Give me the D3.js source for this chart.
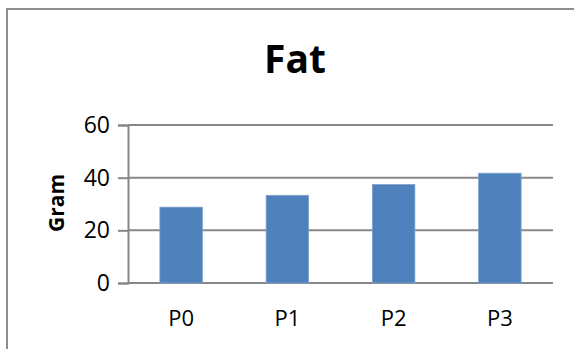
<!DOCTYPE html>
<html>
<head>
<meta charset="utf-8">
<script src="https://cdn.jsdelivr.net/npm/d3@7"></script>
<style>
  body { margin: 0; background: #fff; }
</style>
</head>
<body>
<div id="chart"></div>
<script>
const categories = ["P0", "P1", "P2", "P3"];
const fatValues = [28.8, 33.3, 37.4, 41.7];
const yTicks = [0, 20, 40, 60];

const W = 574, H = 349;
const margin = {top: 125, right: 21, bottom: 66, left: 128};
const width = W - margin.left - margin.right,
      height = H - margin.top - margin.bottom;

const svg = d3.select("#chart").append("svg")
    .attr("width", W)
    .attr("height", H)
    .style("font-family", "'Open Sans', sans-serif");

// outer chart border
svg.append("rect")
    .attr("x", 7)
    .attr("y", 9)
    .attr("width", W + 20)
    .attr("height", H + 20)
    .attr("fill", "none")
    .attr("stroke", "#8e8e8e")
    .attr("stroke-width", 2);

// title
svg.append("text")
    .attr("x", 295)
    .attr("y", 73)
    .attr("text-anchor", "middle")
    .attr("font-size", "39px")
    .attr("font-weight", "bold")
    .text("Fat");

const g = svg.append("g")
    .attr("transform", `translate(${margin.left},${margin.top})`);

const x = d3.scaleBand()
    .domain(categories)
    .range([0, width])
    .paddingInner(0.6)
    .paddingOuter(0.3);

const y = d3.scaleLinear()
    .domain([0, 60])
    .range([height, 0]);

// gridlines
g.append("g")
    .selectAll("line")
    .data(yTicks)
    .join("line")
    .attr("x1", 0)
    .attr("x2", width)
    .attr("y1", d => y(d))
    .attr("y2", d => y(d))
    .attr("stroke", "#878787")
    .attr("stroke-width", 2);

// y axis
const yAxis = g.append("g")
    .call(d3.axisLeft(y).tickValues(yTicks).tickSize(10).tickPadding(8));
yAxis.select(".domain").attr("stroke", "#878787").attr("stroke-width", 2);
yAxis.selectAll(".tick line").attr("stroke", "#878787").attr("stroke-width", 2);
yAxis.selectAll(".tick text")
    .attr("font-size", "23px")
    .attr("font-family", "'Open Sans', sans-serif")
    .attr("fill", "#000");

// bars
g.selectAll(".bar")
    .data(fatValues)
    .join("rect")
    .attr("class", "bar")
    .attr("x", (d, i) => x(categories[i]))
    .attr("y", d => y(d))
    .attr("width", x.bandwidth())
    .attr("height", d => height - y(d))
    .attr("fill", "#4f81bd")
    .attr("stroke", "#7fa3cf")
    .attr("stroke-width", 0.8);

// x axis
const xAxis = g.append("g")
    .attr("transform", `translate(0,${height})`)
    .call(d3.axisBottom(x).tickSize(0).tickPadding(27));
xAxis.select(".domain").remove();
xAxis.selectAll(".tick text")
    .attr("font-size", "22px")
    .attr("font-family", "'Open Sans', sans-serif")
    .attr("fill", "#000");

// y axis title
svg.append("text")
    .attr("transform", "translate(64,203) rotate(-90)")
    .attr("text-anchor", "middle")
    .attr("font-size", "21px")
    .attr("font-weight", "bold")
    .text("Gram");
</script>
</body>
</html>
